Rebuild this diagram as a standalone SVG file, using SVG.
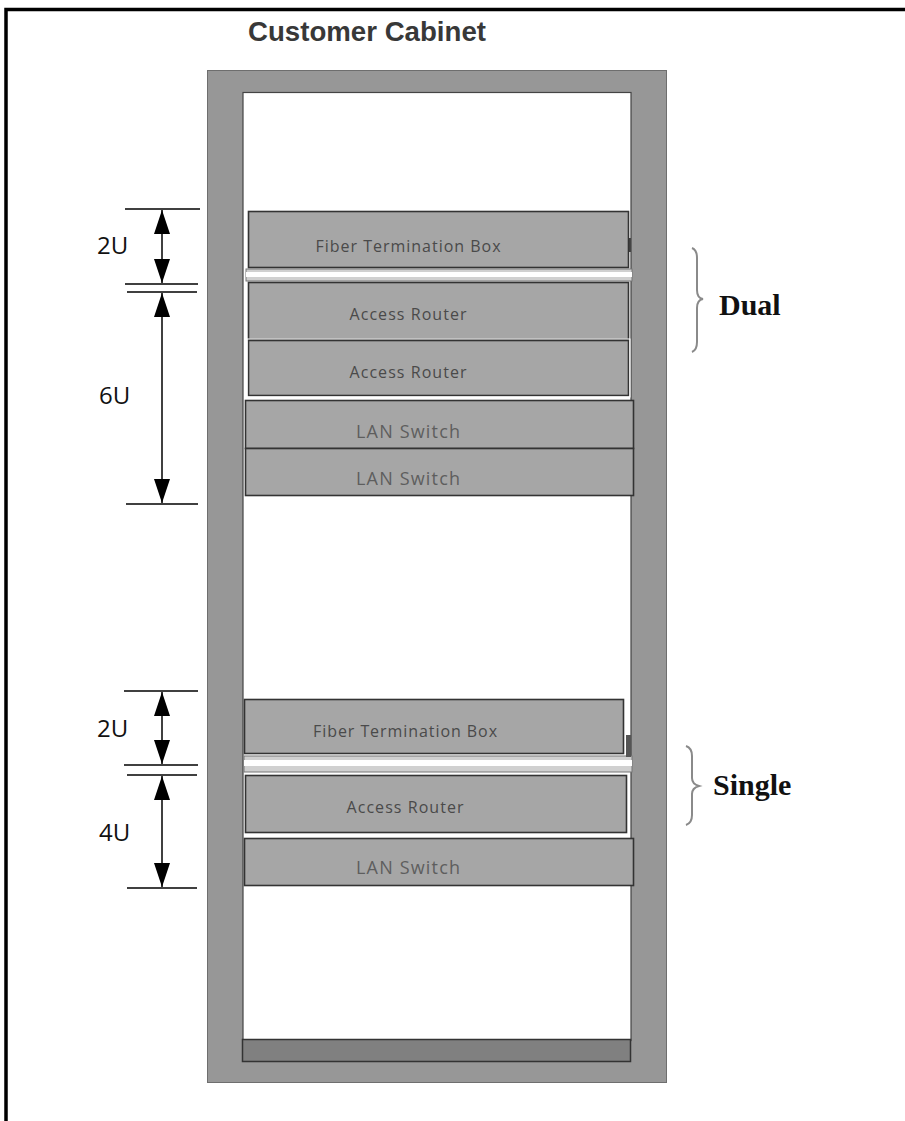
<svg xmlns="http://www.w3.org/2000/svg" width="905" height="1121" viewBox="0 0 905 1121">
<defs>
<marker id="ah" viewBox="0 0 24 16" refX="24" refY="8" markerWidth="24" markerHeight="16" markerUnits="userSpaceOnUse" orient="auto-start-reverse">
<path d="M0,0 L24,8 L0,16 z" fill="#000"/>
</marker>
<style>
.dev{fill:#a6a6a6;stroke:#333;stroke-width:1.6}
.lbl{font-family:"Open Sans","Liberation Sans",sans-serif;font-size:16px;fill:#4a4a4a;text-anchor:middle}
.lan{font-family:"Open Sans","Liberation Sans",sans-serif;font-size:18px;fill:#5e5e5e;text-anchor:middle}
.dim{font-family:"Open Sans","Liberation Sans",sans-serif;font-size:24px;fill:#111}
.tick{stroke:#000;stroke-width:1.5}
.arr{stroke:#000;stroke-width:1.5;marker-start:url(#ah);marker-end:url(#ah)}
.brace{fill:none;stroke:#8a8a8a;stroke-width:2}
.side{font-family:"Liberation Serif","Times New Roman",serif;font-weight:bold;font-size:30px;fill:#111}
.rail{fill:#d0d0d0;stroke:#777;stroke-width:1}
</style>
</defs>
<rect width="905" height="1121" fill="#fff"/>
<path d="M6,1121 L6,9.5 L905,9.5" fill="none" stroke="#000" stroke-width="3.5"/>
<text x="248" y="41" font-family="'Liberation Sans',Arial,sans-serif" font-weight="bold" font-size="27" fill="#383838" textLength="238" lengthAdjust="spacingAndGlyphs">Customer Cabinet</text>
<g id="cabinet">
<rect x="207.5" y="70.5" width="459" height="1012" fill="#979797" stroke="#6e6e6e" stroke-width="1"/>
<rect x="243" y="92.5" width="388" height="948" fill="#fff" stroke="#444" stroke-width="1.2"/>
<rect x="242.5" y="1039.5" width="388" height="22" fill="#808080" stroke="#333" stroke-width="1.5"/>
</g>
<g id="rail1">
<rect class="rail" x="246" y="269" width="386" height="12"/>
<rect x="246" y="272" width="386" height="5" fill="#fff"/>
<rect x="627" y="238" width="4" height="14" fill="#444"/>
</g>
<g id="rail2">
<rect class="rail" x="244" y="756" width="388" height="16"/>
<rect x="244" y="760" width="388" height="6" fill="#fff"/>
<rect x="626" y="735" width="5" height="22" fill="#555"/>
</g>
<g id="ftb1"><rect class="dev" x="248.5" y="211.5" width="380" height="56"/><text class="lbl" x="408" y="252" textLength="185">Fiber Termination Box</text></g>
<g id="ar1"><rect class="dev" x="248.5" y="282.5" width="380" height="57"/><text class="lbl" x="408" y="320" textLength="117">Access Router</text></g>
<g id="ar2"><rect class="dev" x="248.5" y="340.5" width="380" height="55"/><rect x="247" y="339" width="383" height="58" fill="none" stroke="#fff" stroke-width="1"/><text class="lbl" x="408" y="378" textLength="117">Access Router</text></g>
<g id="lan1"><rect class="dev" x="245.5" y="400.5" width="388" height="48"/><text class="lan" x="408" y="438" textLength="104">LAN Switch</text></g>
<g id="lan2"><rect class="dev" x="245.5" y="448.5" width="388" height="47"/><text class="lan" x="408" y="485" textLength="104">LAN Switch</text></g>
<g id="ftb2"><rect class="dev" x="244.5" y="699.5" width="379" height="54"/><text class="lbl" x="405" y="737" textLength="184">Fiber Termination Box</text></g>
<g id="ar3"><rect class="dev" x="245.5" y="775.5" width="381" height="57"/><text class="lbl" x="405" y="813" textLength="117">Access Router</text></g>
<g id="lan3"><rect class="dev" x="244.5" y="838.5" width="389" height="47"/><text class="lan" x="408" y="874" textLength="104">LAN Switch</text></g>
<g id="connectors">
<line class="tick" x1="125" y1="209" x2="200" y2="209"/>
<line class="tick" x1="125" y1="284" x2="198" y2="284"/>
<line class="tick" x1="127" y1="292" x2="197" y2="292"/>
<line class="tick" x1="126" y1="504" x2="198" y2="504"/>
<line class="tick" x1="124" y1="691" x2="198" y2="691"/>
<line class="tick" x1="124" y1="765" x2="198" y2="765"/>
<line class="tick" x1="127" y1="775" x2="197" y2="775"/>
<line class="tick" x1="127" y1="888" x2="197" y2="888"/>
<line class="arr" x1="162" y1="210" x2="162" y2="283"/>
<line class="arr" x1="162" y1="293" x2="162" y2="503"/>
<line class="arr" x1="162" y1="692" x2="162" y2="764"/>
<line class="arr" x1="162" y1="776" x2="162" y2="887"/>
<path class="brace" d="M692,248 Q697,250 697,258 L697,290 Q697,298 703,299 Q697,300 697,308 L697,342 Q697,350 692,352"/>
<path class="brace" d="M686,746 Q692,748 692,756 L692,778 Q692,784 699,786 Q692,788 692,794 L692,815 Q692,823 686,825"/>
</g>
<g id="labels">
<text class="dim" x="97" y="254">2U</text>
<text class="dim" x="99" y="404">6U</text>
<text class="dim" x="97" y="737">2U</text>
<text class="dim" x="99" y="841">4U</text>
<text class="side" x="719" y="315">Dual</text>
<text class="side" x="713" y="795">Single</text>
</g>
</svg>
